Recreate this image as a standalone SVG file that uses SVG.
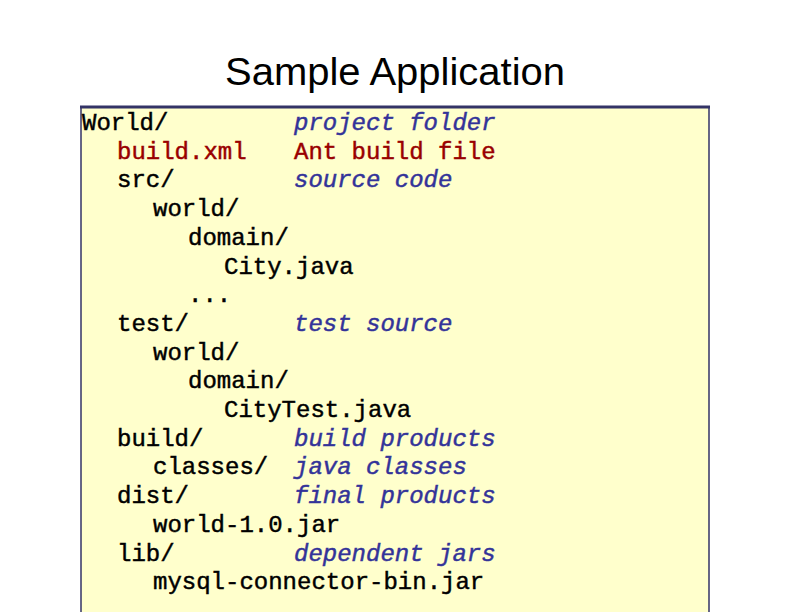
<svg xmlns="http://www.w3.org/2000/svg" width="792" height="612" viewBox="0 0 792 612">
<style>
.t{font-family:"Liberation Mono","Courier New",monospace;font-size:24px;fill:#000;stroke:#000;stroke-width:0.45}
.r{fill:#990000;stroke:#990000}
.c{font-style:italic;fill:#333399;stroke:#333399}
.title{font-family:"Liberation Sans",Arial,sans-serif;font-size:38px;fill:#000}
</style>
<rect width="792" height="612" fill="#fff"/>
<g id="title"><text class="title" x="225" y="85" textLength="340" lengthAdjust="spacingAndGlyphs">Sample Application</text></g>
<g id="box">
<rect x="81" y="107" width="628" height="510" fill="#ffffcc"/>
<line x1="81" y1="107" x2="81" y2="612" stroke="#333366" stroke-width="1.5"/>
<line x1="709" y1="107" x2="709" y2="612" stroke="#333366" stroke-width="1.5"/>
<line x1="80" y1="107" x2="710" y2="107" stroke="#333366" stroke-width="3"/>
</g>
<g id="tree" class="t">
<text x="82" y="130">World/</text>
<text x="117" y="158.7" class="r">build.xml</text>
<text x="117" y="187.4">src/</text>
<text x="153" y="216.1">world/</text>
<text x="188" y="244.8">domain/</text>
<text x="224" y="273.5">City.java</text>
<text x="188" y="302.2">...</text>
<text x="117" y="330.9">test/</text>
<text x="153" y="359.6">world/</text>
<text x="188" y="388.3">domain/</text>
<text x="224" y="417">CityTest.java</text>
<text x="117" y="445.7">build/</text>
<text x="153" y="474.4">classes/</text>
<text x="117" y="503.1">dist/</text>
<text x="153" y="531.8">world-1.0.jar</text>
<text x="117" y="560.5">lib/</text>
<text x="153" y="589.2">mysql-connector-bin.jar</text>
</g>
<g id="comments" class="t">
<text x="294" y="130" class="c">project folder</text>
<text x="294" y="158.7" class="r">Ant build file</text>
<text x="294" y="187.4" class="c">source code</text>
<text x="294" y="330.9" class="c">test source</text>
<text x="294" y="445.7" class="c">build products</text>
<text x="294" y="474.4" class="c">java classes</text>
<text x="294" y="503.1" class="c">final products</text>
<text x="294" y="560.5" class="c">dependent jars</text>
</g>
</svg>
